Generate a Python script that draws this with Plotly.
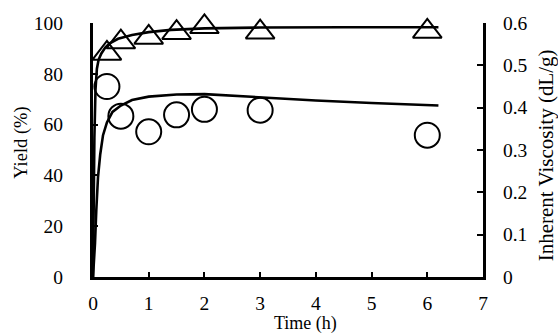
import plotly.graph_objects as go

# ---- data ----
time_points = [0.25, 0.5, 1.0, 1.5, 2.0, 3.0, 6.0]
yield_pct = [88.0, 92.5, 94.3, 96.2, 98.5, 96.4, 96.7]
inh_visc = [0.45, 0.38, 0.343, 0.383, 0.396, 0.394, 0.335]

yield_fit_t = [0, 0.01, 0.025, 0.045, 0.07, 0.1, 0.15, 0.22, 0.3, 0.45, 0.7, 1.0, 1.4, 2.0, 3.0, 4.5, 6.2]
yield_fit_v = [0, 25, 55, 74, 82, 85.5, 88, 90.3, 92, 93.8, 95.3, 96.4, 97.3, 97.9, 98.2, 98.3, 98.3]

visc_fit_t = [0.0, 0.02, 0.036, 0.06, 0.09, 0.13, 0.18, 0.25, 0.35, 0.5, 0.7, 1.0, 1.5, 2.0, 3.0, 4.0, 5.0, 6.2]
visc_fit_v = [0.0, 0.04, 0.08, 0.16, 0.236, 0.29, 0.335, 0.365, 0.39, 0.405, 0.418, 0.426, 0.431, 0.432, 0.424, 0.417, 0.411, 0.405]

x_ticks = [0, 1, 2, 3, 4, 5, 6, 7]
y_ticks = [0, 20, 40, 60, 80, 100]
y2_ticks = [0, 0.1, 0.2, 0.3, 0.4, 0.5, 0.6]
y2_labels = ["0", "0.1", "0.2", "0.3", "0.4", "0.5", "0.6"]

FONT = "Liberation Serif"

fig = go.Figure()
fig.add_trace(go.Scatter(x=yield_fit_t, y=yield_fit_v, mode="lines",
                         line=dict(color="black", width=2.6), yaxis="y",
                         showlegend=False, hoverinfo="skip"))
fig.add_trace(go.Scatter(x=visc_fit_t, y=visc_fit_v, mode="lines",
                         line=dict(color="black", width=2.6), yaxis="y2",
                         showlegend=False, hoverinfo="skip"))
fig.add_trace(go.Scatter(x=time_points, y=yield_pct, mode="markers", yaxis="y",
                         marker=dict(symbol="triangle-up-open", size=25, color="black",
                                     line=dict(color="black", width=2)),
                         cliponaxis=False, showlegend=False))
fig.add_trace(go.Scatter(x=time_points, y=inh_visc, mode="markers", yaxis="y2",
                         marker=dict(symbol="circle-open", size=25, color="black",
                                     line=dict(color="black", width=2)),
                         cliponaxis=False, showlegend=False))

tickfont = dict(family=FONT, size=19.5, color="black")
fig.update_layout(
    width=558, height=334,
    margin=dict(l=93, r=74.5, t=23, b=57, pad=0),
    paper_bgcolor="white", plot_bgcolor="white",
    showlegend=False,
    xaxis=dict(range=[0, 7], tickvals=x_ticks, ticktext=[str(v) for v in x_ticks],
               showgrid=False, zeroline=False, showline=True, linecolor="black", linewidth=3,
               ticks="inside", ticklen=5, tickwidth=2, tickcolor="black",
               tickfont=tickfont, ticklabelstandoff=7),
    yaxis=dict(range=[0, 100], tickvals=y_ticks, ticktext=[str(v) for v in y_ticks],
               showgrid=False, zeroline=False, showline=True, linecolor="black", linewidth=3,
               ticks="inside", ticklen=5, tickwidth=2, tickcolor="black",
               tickfont=tickfont, ticklabelstandoff=23),
    yaxis2=dict(range=[0, 0.6], tickvals=y2_ticks, ticktext=y2_labels,
                overlaying="y", side="right", anchor="x",
                showgrid=False, zeroline=False, showline=True, linecolor="black", linewidth=3,
                ticks="inside", ticklen=6, tickwidth=2, tickcolor="black",
                tickfont=tickfont, ticklabelstandoff=13),
    annotations=[
        dict(text="Yield (%)", xref="paper", yref="paper", x=-0.1826, y=0.5276,
             xanchor="center", yanchor="middle", textangle=-90, showarrow=False,
             font=dict(family=FONT, size=18.5, color="black")),
        dict(text="Inherent Viscosity (dL/g)", xref="paper", yref="paper", x=1.162, y=0.480,
             xanchor="center", yanchor="middle", textangle=-90, showarrow=False,
             font=dict(family=FONT, size=21, color="black")),
        dict(text="Time (h)", xref="paper", yref="paper", x=0.544, y=0.0, yshift=-46.5,
             xanchor="center", yanchor="middle", showarrow=False, borderpad=0,
             font=dict(family=FONT, size=18, color="black")),
    ],
)

fig.write_html("out.html")
